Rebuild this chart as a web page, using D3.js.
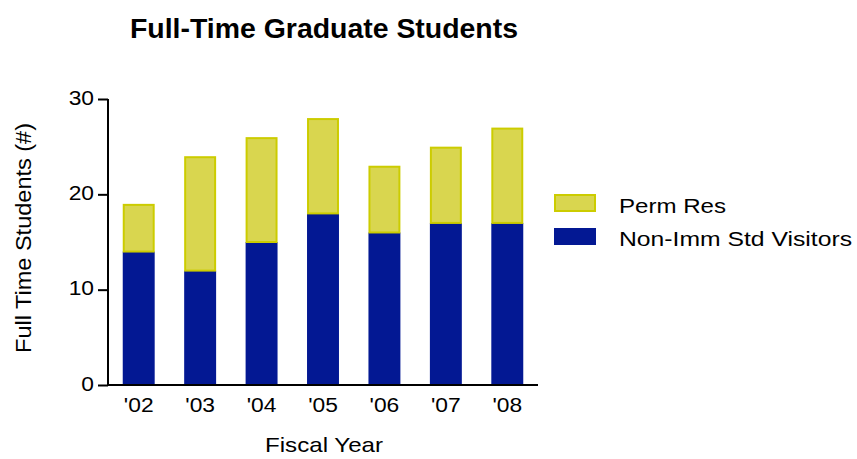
<!DOCTYPE html>
<html>
<head>
<meta charset="utf-8">
<script src="https://cdn.jsdelivr.net/npm/d3@7"></script>
<style>
  body { margin: 0; background: #fff; }
  text { font-family: "Liberation Sans", Arial, sans-serif; fill: #000; }
</style>
</head>
<body>
<div id="chart"></div>
<script>
// data
const years = ["'02", "'03", "'04", "'05", "'06", "'07", "'08"];
const nonImm = [14, 12, 15, 18, 16, 17, 17];
const permRes = [5, 12, 11, 10, 7, 8, 10];
const yTicks = [0, 10, 20, 30];
const seriesNames = ["Perm Res", "Non-Imm Std Visitors"];

const W = 857, H = 459;
const margin = {left: 108, top: 99, right: 319, bottom: 74};
const width = W - margin.left - margin.right;
const height = H - margin.top - margin.bottom;

// the original type is set a little wider than Liberation Sans
function widen(sel, k) {
    sel.each(function() {
        const len = this.getComputedTextLength();
        d3.select(this).attr('textLength', len * k).attr('lengthAdjust', 'spacingAndGlyphs');
    });
}

const svg = d3.select('#chart').append('svg')
    .attr('width', W)
    .attr('height', H);

const chart = svg.append('g')
    .attr('transform', `translate(${margin.left},${margin.top})`);

const x = d3.scaleBand().domain(years).range([0, width]).paddingInner(0.48).paddingOuter(0.24);
const y = d3.scaleLinear().domain([0, 30]).range([height, 0]);

const rows = years.map((yr, i) => ({year: yr, nonImm: nonImm[i], permRes: permRes[i]}));
const stacked = d3.stack().keys(['nonImm', 'permRes'])(rows);

const fills = {nonImm: '#031893', permRes: '#d9d64f'};
const strokes = {nonImm: '#031893', permRes: '#cccc00'};

chart.selectAll('.layer')
    .data(stacked)
    .join('g')
    .attr('class', 'layer')
    .each(function(layer) {
        const yellow = layer.key === 'permRes';
        d3.select(this).selectAll('rect')
            .data(layer)
            .join('rect')
            .attr('x', d => x(d.data.year) + (yellow ? 1 : 0))
            .attr('width', x.bandwidth() - (yellow ? 2 : 0))
            .attr('y', d => y(d[1]) + (yellow ? 1 : 0))
            .attr('height', d => y(d[0]) - y(d[1]) - (yellow ? 1 : 0))
            .attr('fill', fills[layer.key])
            .attr('stroke', yellow ? strokes.permRes : 'none')
            .attr('stroke-width', 2);
    });

// axes
const yAxis = chart.append('g')
    .call(d3.axisLeft(y).tickValues(yTicks).tickSize(10).tickPadding(4));
const xAxis = chart.append('g')
    .attr('transform', `translate(0,${height})`)
    .call(d3.axisBottom(x).tickSize(0).tickPadding(13));

[yAxis, xAxis].forEach(g => {
    g.select('.domain').attr('stroke', '#000').attr('stroke-width', 2);
    g.selectAll('.tick line').attr('stroke', '#000').attr('stroke-width', 2);
    g.selectAll('.tick text').attr('font-size', 20).attr('fill', '#000')
        .attr('font-family', '"Liberation Sans", Arial, sans-serif');
    widen(g.selectAll('.tick text'), 1.14);
});
yAxis.select('.domain').attr('d', `M0,${height}V0`);
yAxis.selectAll('.tick text').attr('dy', '0.25em');
xAxis.select('.domain').attr('d', `M0,0H${width}`);

// titles
svg.append('text')
    .attr('x', 324).attr('y', 38)
    .attr('text-anchor', 'middle')
    .attr('font-size', 28).attr('font-weight', 'bold')
    .attr('textLength', 388).attr('lengthAdjust', 'spacingAndGlyphs')
    .text('Full-Time Graduate Students');

svg.append('text')
    .attr('x', 324).attr('y', 452)
    .attr('text-anchor', 'middle')
    .attr('font-size', 21)
    .attr('textLength', 118).attr('lengthAdjust', 'spacingAndGlyphs')
    .text('Fiscal Year');

svg.append('text')
    .attr('transform', 'translate(31,238) rotate(-90)')
    .attr('text-anchor', 'middle')
    .attr('font-size', 22)
    .attr('textLength', 230).attr('lengthAdjust', 'spacingAndGlyphs')
    .text('Full Time Students (#)');

// legend
const legend = svg.append('g').attr('transform', 'translate(554,194)');
const legendKeys = ['permRes', 'nonImm'];
const legendWidths = [107, 233];
legend.selectAll('g')
    .data(seriesNames)
    .join('g')
    .attr('transform', (d, i) => `translate(0,${i * 34})`)
    .each(function(name, i) {
        const g = d3.select(this);
        const key = legendKeys[i];
        const yellow = key === 'permRes';
        g.append('rect')
            .attr('x', yellow ? 1 : 0).attr('y', yellow ? 1 : 0)
            .attr('width', yellow ? 40 : 42)
            .attr('height', yellow ? 16 : 17)
            .attr('fill', fills[key])
            .attr('stroke', yellow ? strokes.permRes : 'none')
            .attr('stroke-width', 2);
        g.append('text')
            .attr('x', 65).attr('y', 19 - (i ? 1 : 0))
            .attr('font-size', 21)
            .attr('textLength', legendWidths[i]).attr('lengthAdjust', 'spacingAndGlyphs')
            .text(name);
    });
</script>
</body>
</html>
